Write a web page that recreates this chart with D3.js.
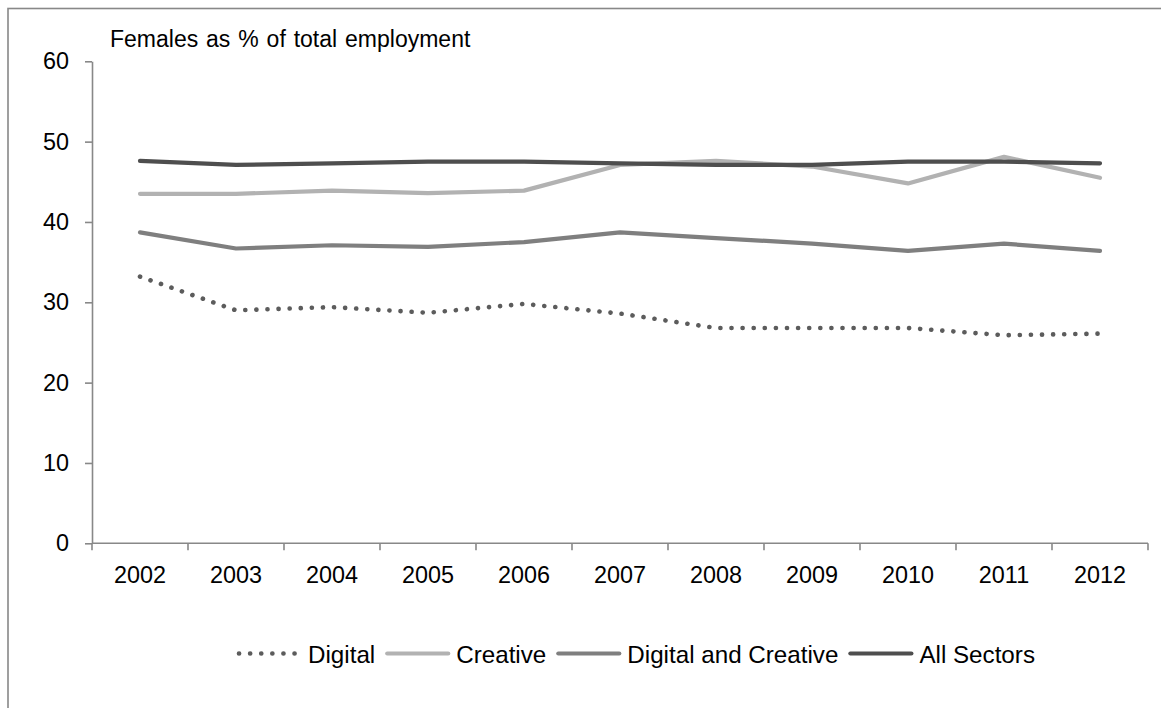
<!DOCTYPE html>
<html>
<head>
<meta charset="utf-8">
<script src="https://cdn.jsdelivr.net/npm/d3@7"></script>
<style>
  html, body { margin: 0; padding: 0; background: #fff; }
  svg { display: block; }
  text { font-family: "Liberation Sans", Arial, sans-serif; fill: #000; }
</style>
</head>
<body>
<svg id="chart" width="1161" height="708"></svg>
<script>
const years = ["2002","2003","2004","2005","2006","2007","2008","2009","2010","2011","2012"];
const digital = [33.2, 29.0, 29.4, 28.7, 29.8, 28.6, 26.8, 26.8, 26.8, 25.9, 26.1];
const creative = [43.5, 43.5, 43.9, 43.6, 43.9, 47.1, 47.6, 46.9, 44.8, 48.1, 45.5];
const digitalAndCreative = [38.7, 36.7, 37.1, 36.9, 37.5, 38.7, 38.0, 37.3, 36.4, 37.3, 36.4];
const allSectors = [47.6, 47.1, 47.3, 47.5, 47.5, 47.3, 47.1, 47.1, 47.5, 47.5, 47.3];
const yTicks = [0, 10, 20, 30, 40, 50, 60];
const yTitle = "Females as % of total employment";

const seriesNames = ["Digital", "Creative", "Digital and Creative", "All Sectors"];
const seriesValues = [digital, creative, digitalAndCreative, allSectors];
const seriesColors = ["#5c5c5c", "#b2b2b2", "#7f7f7f", "#4e4e4e"];
const seriesDashed = [true, false, false, false];

const svg = d3.select("#chart");
const fontSize = 23.4;
const legendFontSize = 24.2;
const axisColor = "#888888";

// outer frame (extends past the visible area on right and bottom)
svg.append("rect")
  .attr("x", 8).attr("y", 8.5)
  .attr("width", 1300).attr("height", 900)
  .attr("fill", "none").attr("stroke", axisColor).attr("stroke-width", 1.6);

const plot = { left: 92, right: 1148, top: 61.3, bottom: 543.3 };

const x = d3.scaleBand().domain(years).range([plot.left, plot.right]).paddingInner(0).paddingOuter(0);
const y = d3.scaleLinear().domain([0, 60]).range([plot.bottom, plot.top]);

// Y axis
const yAxis = d3.axisLeft(y).tickValues(yTicks).tickSize(7).tickPadding(16).tickSizeOuter(0);
const gy = svg.append("g").attr("transform", `translate(${plot.left},0)`).call(yAxis);
gy.select(".domain").attr("stroke", axisColor).attr("stroke-width", 1.6);
gy.selectAll(".tick line").attr("stroke", axisColor).attr("stroke-width", 1.6);
gy.selectAll(".tick text")
  .attr("font-size", fontSize)
  .attr("font-family", '"Liberation Sans", Arial, sans-serif')
  .attr("fill", "#000");

// X axis labels
const xAxis = d3.axisBottom(x).tickSize(0).tickPadding(0).tickSizeOuter(0);
const gx = svg.append("g").attr("transform", `translate(0,${plot.bottom})`).call(xAxis);
gx.select(".domain").remove();
gx.selectAll(".tick text")
  .attr("font-size", fontSize)
  .attr("font-family", '"Liberation Sans", Arial, sans-serif')
  .attr("fill", "#000")
  .attr("dy", null)
  .attr("y", 39.5);

// X axis line and boundary ticks
const boundaries = years.map(d => x(d)).concat([x(years[years.length - 1]) + x.bandwidth()]);
svg.append("line")
  .attr("x1", plot.left).attr("x2", plot.right)
  .attr("y1", plot.bottom).attr("y2", plot.bottom)
  .attr("stroke", axisColor).attr("stroke-width", 1.6);
svg.append("g").selectAll("line").data(boundaries).join("line")
  .attr("x1", d => d).attr("x2", d => d)
  .attr("y1", plot.bottom).attr("y2", plot.bottom + 7)
  .attr("stroke", axisColor).attr("stroke-width", 1.6);

// Title
svg.append("text")
  .attr("x", 110).attr("y", 47)
  .attr("font-size", 23)
  .attr("word-spacing", 1.5)
  .text(yTitle);

// Lines
const line = d3.line()
  .x((d, i) => x(years[i]) + x.bandwidth() / 2)
  .y(d => y(d));

seriesValues.forEach((vals, k) => {
  const p = svg.append("path")
    .datum(vals)
    .attr("d", line)
    .attr("fill", "none")
    .attr("stroke", seriesColors[k])
    .attr("stroke-width", 4.2)
    .attr("stroke-linejoin", "round")
    .attr("stroke-linecap", "round");
  if (seriesDashed[k]) {
    p.attr("stroke-dasharray", "0.1 11").attr("stroke-width", 4.6);
  }
});

// Legend
const legendY = 653.5;
let sx = 237;
seriesNames.forEach((name, k) => {
  const g = svg.append("g");
  const ln = g.append("line")
    .attr("x1", sx + 2).attr("x2", sx + 63)
    .attr("y1", legendY).attr("y2", legendY)
    .attr("stroke", seriesColors[k])
    .attr("stroke-width", 4.2)
    .attr("stroke-linecap", "round");
  if (seriesDashed[k]) ln.attr("stroke-dasharray", "0.1 11").attr("stroke-width", 4.6).attr("x1", sx + 2).attr("x2", sx + 60);
  const t = g.append("text")
    .attr("x", sx + 71).attr("y", legendY + 9.5)
    .attr("font-size", legendFontSize)
    .text(name);
  sx = sx + 71 + t.node().getComputedTextLength() + 10;
});
</script>
</body>
</html>
